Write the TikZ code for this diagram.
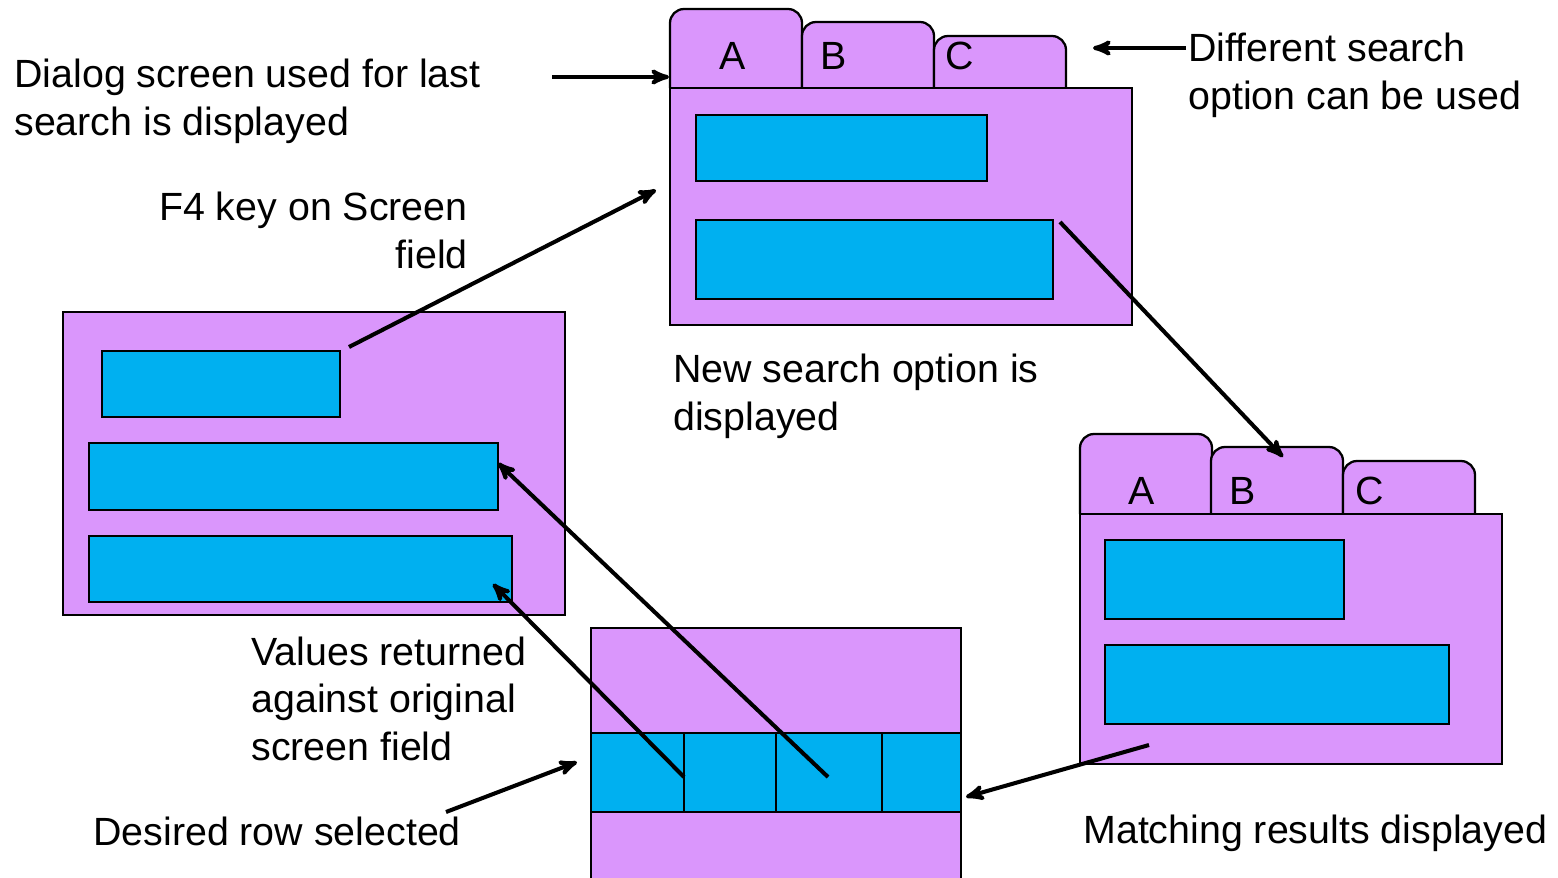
\documentclass[tikz,border=0pt]{standalone}
\usepackage{fontspec}
\setmainfont{Liberation Sans}
\usetikzlibrary{arrows}

\definecolor{lilac}{RGB}{218,150,252}
\definecolor{fieldblue}{RGB}{0,176,240}

\begin{document}
\begin{tikzpicture}[x=0.2mm, y=-0.2mm, >=stealth', line join=miter]
        \tikzstyle{panel}=[fill=lilac, draw=black, line width=1.3pt]
        \tikzstyle{field}=[fill=fieldblue, draw=black, line width=1.3pt]
        \tikzstyle{tab}=[panel, rounded corners=2.8mm]
        \tikzstyle{pointer}=[->, line width=2.3pt]
        \tikzstyle{caption}=[anchor=base west, inner sep=0, align=left, font=\fontsize{22.4}{26.8}\selectfont]
        \tikzstyle{letter}=[caption, anchor=base]

        \useasboundingbox (0,0) rectangle (1558,877);

        % dialog for the last search
        \foreach \x/\t in {670/9, 802/22, 934/36}
            \draw[tab] (\x,88) -- (\x,\t) -- (\x+132,\t) -- (\x+132,88);
        \draw[panel] (670,88) rectangle (1132,325);
        \draw[field] (696,115) rectangle (987,181);
        \draw[field] (696,220) rectangle (1053,299);
        \node[letter]   (A1) at (733,69)    {A};
        \node[letter]   (B1) at (834,69)    {B};
        \node[letter]   (C1) at (960,69)    {C};

        % dialog with the results
        \foreach \x/\t in {1080/434, 1211/447, 1343/461}
            \draw[tab] (\x,514) -- (\x,\t) -- (\x+132,\t) -- (\x+132,514);
        \draw[panel] (1080,514) rectangle (1502,764);
        \draw[field] (1105,540) rectangle (1344,619);
        \draw[field] (1105,645) rectangle (1449,724);
        \node[letter]   (A2) at (1142,504)  {A};
        \node[letter]   (B2) at (1243,504)  {B};
        \node[letter]   (C2) at (1370,504)  {C};

        % original screen
        \draw[panel] (63,312) rectangle (565,615);
        \draw[field] (102,351) rectangle (340,417);
        \draw[field] (89,443) rectangle (498,510);
        \draw[field] (89,536) rectangle (512,602);

        % list of hits
        \draw[panel] (591,628) rectangle (961,890);
        \draw[field] (591,733) rectangle (961,812);
        \foreach \x in {684,776,882}
            \draw[line width=1.3pt] (\x,733) -- (\x,812);

        % captions (base = last line)
        \node[caption]  (lastText)      at (14,135)     {Dialog screen used for last\\search is displayed};
        \node[caption, anchor=base east, align=right]
                        (keyText)       at (468,268)    {F4 key on Screen\\field};
        \node[caption]  (otherText)     at (1188,109)   {Different search\\option can be used};
        \node[caption]  (newText)       at (673,430)    {New search option is\\displayed};
        \node[caption]  (valuesText)    at (251,760)    {Values returned\\against original\\screen field};
        \node[caption]  (rowText)       at (93,845)     {Desired row selected};
        \node[caption]  (matchText)     at (1083,843)   {Matching results displayed};

        % pointer ends
        \coordinate (lastFrom)      at (552,77);
        \coordinate (lastTo)        at (669,77);
        \coordinate (otherFrom)     at (1186,48);
        \coordinate (otherTo)       at (1093,48);
        \coordinate (keyFrom)       at (349,347);
        \coordinate (keyTo)         at (656,190);
        \coordinate (newFrom)       at (1060,222);
        \coordinate (newTo)         at (1283,457);
        \coordinate (matchFrom)     at (1149,745);
        \coordinate (matchTo)       at (966,797);
        \coordinate (rowFrom)       at (446,812);
        \coordinate (rowTo)         at (577,762);
        \coordinate (firstFrom)     at (684,777);
        \coordinate (firstTo)       at (493,584);
        \coordinate (secondFrom)    at (828,777);
        \coordinate (secondTo)      at (498,463);

        \path[pointer]
            (lastFrom)      edge    (lastTo)
            (otherFrom)     edge    (otherTo)
            (keyFrom)       edge    (keyTo)
            (newFrom)       edge    (newTo)
            (matchFrom)     edge    (matchTo)
            (rowFrom)       edge    (rowTo)
            (firstFrom)     edge    (firstTo)
            (secondFrom)    edge    (secondTo)
        ;
\end{tikzpicture}
\end{document}
